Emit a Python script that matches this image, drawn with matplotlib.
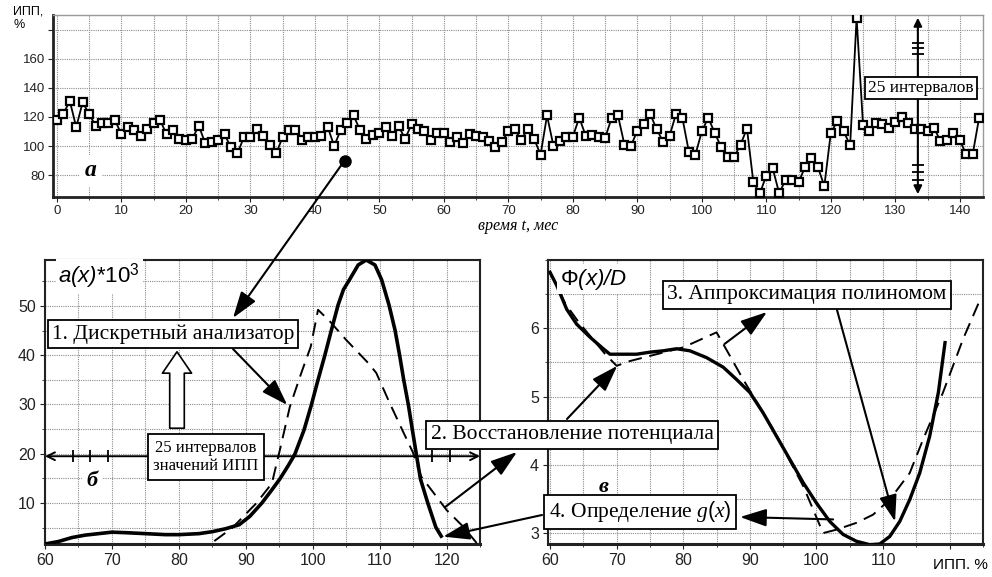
import numpy as np
import matplotlib
matplotlib.use("Agg")
import matplotlib.pyplot as plt
from matplotlib.patches import ConnectionPatch
from matplotlib.ticker import MultipleLocator

plt.rcParams['font.family'] = ['Liberation Sans', 'DejaVu Sans']
plt.rcParams['mathtext.fontset'] = 'custom'
plt.rcParams['mathtext.rm'] = 'Liberation Sans'
plt.rcParams['mathtext.sf'] = 'Liberation Sans:italic'
plt.rcParams['mathtext.it'] = 'Liberation Serif:italic'

# ---------------- data ----------------
months = list(range(144))
ipp = [118, 122, 131, 113, 130, 122, 114, 116, 116, 118,
       108, 113, 111, 107, 112, 116, 118, 108, 111, 105,
       104, 105, 114, 102, 103, 104, 108, 99, 95, 106,
       106, 112, 107, 101, 95, 106, 111, 111, 104, 106,
       106, 107, 113, 100, 111, 116, 121, 111, 105, 107.5,
       109, 113, 107, 113.5, 105, 115, 111.5, 110.5, 104, 109,
       109, 103, 106.5, 102, 108, 107, 106.5, 103.5, 99, 103,
       110, 111.5, 104, 112, 105, 94, 121, 100, 103.5, 106.5,
       106.5, 119.5, 107, 107.5, 106, 105.5, 119, 121, 101, 100,
       110.5, 115, 122, 111.5, 103, 107, 122, 119, 96, 94,
       110, 119.5, 109, 99.3, 92.4, 92.4, 101, 112, 75, 67.5,
       79.7, 84.6, 67.5, 77, 77, 75, 85.5, 91.7, 85.5, 72.5,
       109, 117, 110, 100.5, 188, 114.5, 110.3, 115.6, 115, 112.6,
       116.8, 120, 115.6, 111.7, 111.7, 110.3, 112.6, 103.4, 104, 108.7,
       104, 94.3, 94.3, 119.5]

# a(x)*10^3 : smooth density (solid) and discrete analyser (dashed)
a_x = [60, 62, 64, 66, 68, 70, 72, 75, 78, 80, 83, 85, 87, 89, 90.6, 92.4,
       93.8, 95.1, 96.3, 97.3, 98.7, 99.8, 100.8, 101.8, 102.8, 103.8, 104.6,
       105.5, 106.8, 108, 109.3, 110.3, 111.4, 112.3, 113, 113.6, 114.3, 114.9,
       115.5, 116.1, 117.2, 118.4, 119.2]
a_y = [1.7, 2.2, 3.0, 3.5, 3.8, 4.1, 4.0, 3.8, 3.6, 3.6, 3.8, 4.2, 4.8, 5.6, 7.3, 10.0,
       12.5, 14.9, 17.5, 19.8, 24.8, 29.9, 35.0, 39.9, 45.1, 50.2, 53.3,
       55.3, 58.3, 59.3, 58.3, 55.3, 50.2, 45.1, 39.9, 35.0, 29.9, 24.8,
       19.8, 14.9, 10.0, 5.1, 3.3]
ad_x = [85.3, 88.0, 91.6, 93.9, 95.1, 96.6, 98.3, 99.7, 100.8, 102.6, 105, 108.3,
        109.5, 111.5, 113.5, 115, 116.2, 118, 120, 122.5, 124.5]
ad_y = [2.3, 5.0, 10.0, 14.0, 20.8, 29.6, 36.4, 41.7, 49.2, 46.8, 43.1, 38.4,
        36.4, 30.3, 24.5, 20.2, 15.4, 12.2, 8.6, 5.2, 1.9]

# Phi(x)/D : polynomial (solid) and restored potential (dashed)
f_x = [60, 61, 62.5, 64, 66, 68, 69, 71, 73, 75, 77, 79, 81, 83.5, 86, 88, 90, 92,
       94, 96, 98, 100, 102, 104, 106, 108, 109.5, 111, 112.5, 114, 115.5, 117,
       118.3, 119.3]
f_y = [6.82, 6.63, 6.28, 6.06, 5.87, 5.70, 5.62, 5.62, 5.62, 5.65, 5.67, 5.70, 5.67,
       5.57, 5.43, 5.25, 5.06, 4.76, 4.42, 4.08, 3.74, 3.44, 3.17, 2.98, 2.88, 2.83,
       2.84, 2.95, 3.17, 3.49, 3.88, 4.42, 5.06, 5.79]
fd_x = [60, 62.3, 64.3, 68.3, 70, 72, 76, 80, 85, 86, 89, 93.5, 98, 101, 103, 106,
        108.5, 111, 114, 116, 119, 122, 124.3]
fd_y = [6.82, 6.36, 6.09, 5.62, 5.45, 5.52, 5.62, 5.72, 5.94, 5.77, 5.25, 4.52, 3.69,
        3.0, 3.05, 3.15, 3.27, 3.49, 3.88, 4.37, 5.06, 5.84, 6.36]

top_xticks = list(range(0, 150, 10))
top_yticks = [80, 100, 120, 140, 160, 180]
top_ylabels = ['80', '100', '120', '140', '160', '']
left_xticks = [60, 70, 80, 90, 100, 110, 120]
left_yticks = [10, 20, 30, 40, 50]
right_xticks = [60, 70, 80, 90, 100, 110, 120]
right_xlabels = ['60', '70', '80', '90', '100', '110', '']
right_yticks = [3, 4, 5, 6]
interval_ticks_top = [171, 167, 163.5, 87, 82, 77]
interval_ticks_left = [64.2, 66.7, 69.4, 117.8, 120.5]

# ---------------- figure ----------------
W, H = 992, 577
fig = plt.figure(figsize=(W / 100, H / 100), dpi=100)


def rect(l, t, r, b):
    return [l / W, 1 - b / H, (r - l) / W, (b - t) / H]


def P(x, y):
    return (x / W, 1 - y / H)


ax1 = fig.add_axes(rect(53, 15, 983, 197))
ax2 = fig.add_axes(rect(45, 260, 480, 544))
ax3 = fig.add_axes(rect(548, 260, 983, 544))

gridkw = dict(color='#8c8c8c', linestyle=(0, (1, 1)), linewidth=0.8)
for ax in (ax1, ax2, ax3):
    ax.grid(True, which='both', **gridkw)
    ax.set_axisbelow(True)
    for s in ax.spines.values():
        s.set_linewidth(1.5)
        s.set_color('#222222')
    ax.tick_params(which='both', direction='out', colors='#222222')
    ax.tick_params(which='minor', length=2.5)

serif = ['Liberation Serif', 'DejaVu Serif']

# ---- top panel ----
ax1.plot(months, ipp, color='black', lw=1.3, marker='s', ms=5.6, mfc='white',
         mec='black', mew=1.6, zorder=3)
ax1.set_xlim(-0.6, 143.6)
ax1.set_ylim(65, 190)
ax1.set_xticks(top_xticks)
ax1.xaxis.set_minor_locator(MultipleLocator(5))
ax1.set_yticks(top_yticks)
ax1.set_yticklabels(top_ylabels)
ax1.yaxis.set_minor_locator(MultipleLocator(20))
ax1.tick_params(labelsize=9.5, pad=2)
ax1.spines['top'].set_color('#999999')
ax1.spines['right'].set_color('#999999')
ax1.spines['top'].set_linewidth(1.0)
ax1.spines['right'].set_linewidth(1.0)
ax1.spines['bottom'].set_linewidth(2.0)
ax1.spines['left'].set_linewidth(2.0)
ax1.set_xlabel('время t, мес', family=serif, style='italic', fontsize=11.5, labelpad=1)
fig.text(13 / W, 1 - 6 / H, 'ИПП,\n%', fontsize=9, va='top', ha='left', linespacing=1.1)
ax1.text(5.2, 83, 'а', family=serif, style='italic', weight='bold', fontsize=17,
         ha='center', va='center', zorder=4,
         bbox=dict(fc='white', ec='none', pad=4))
ax1.annotate('', xy=(133.5, 190), xytext=(133.5, 65),
             arrowprops=dict(arrowstyle='<|-|>', color='black', lw=1.5,
                             mutation_scale=12), zorder=4, annotation_clip=False)
ax1.plot([133.5] * len(interval_ticks_top), interval_ticks_top, ls='none',
         marker='_', ms=8, mew=1.3, color='black', zorder=4)
ax1.plot([44.6], [90], 'o', color='black', ms=8, zorder=5)

# ---- bottom left panel ----
ax2.plot(a_x, a_y, color='black', lw=2.6, zorder=3)
ax2.plot(ad_x, ad_y, color='black', lw=1.4, dashes=(7, 4), zorder=3)
ax2.set_xlim(60, 125)
ax2.set_ylim(1.7, 59.3)
ax2.set_xticks(left_xticks)
ax2.xaxis.set_minor_locator(MultipleLocator(5))
ax2.set_yticks(left_yticks)
ax2.yaxis.set_minor_locator(MultipleLocator(5))
ax2.tick_params(labelsize=11.5, pad=3)
ax2.spines['bottom'].set_linewidth(2.2)
ax2.annotate('', xy=(125, 19.5), xytext=(60, 19.5),
             arrowprops=dict(arrowstyle='<->', color='black', lw=1.4,
                             mutation_scale=14, shrinkA=0, shrinkB=0), zorder=4)
ax2.plot(interval_ticks_left, [19.5] * len(interval_ticks_left), ls='none',
         marker='|', ms=8, mew=1.3, color='black', zorder=4)
ax2.text(62, 56, r'$\mathsf{a(x)}$*10$^3$', fontsize=16, ha='left', va='center',
         zorder=4, bbox=dict(fc='white', ec='none', pad=2))
ax2.text(67, 14.5, 'б', family=serif, style='italic', weight='bold', fontsize=16,
         ha='center', va='center', zorder=4, bbox=dict(fc='white', ec='none', pad=3))

# ---- bottom right panel ----
ax3.plot(f_x, f_y, color='black', lw=2.4, zorder=3)
ax3.plot(fd_x, fd_y, color='black', lw=1.4, dashes=(7, 4), zorder=3)
ax3.set_xlim(59.7, 125)
ax3.set_ylim(2.84, 7.0)
ax3.set_xticks(right_xticks)
ax3.set_xticklabels(right_xlabels)
ax3.xaxis.set_minor_locator(MultipleLocator(5))
ax3.set_yticks(right_yticks)
ax3.yaxis.set_minor_locator(MultipleLocator(0.5))
ax3.tick_params(labelsize=11.5, pad=3)
ax3.spines['bottom'].set_linewidth(2.2)
fig.text(960 / W, 1 - 565 / H, 'ИПП. %', fontsize=11, ha='center', va='center')
ax3.text(61.5, 6.72, r'Φ$\mathsf{(x)/D}$', fontsize=16, ha='left', va='center',
         zorder=4, bbox=dict(fc='white', ec='none', pad=2))
ax3.text(68, 3.68, 'в', family=serif, style='italic', weight='bold', fontsize=16,
         ha='center', va='center', zorder=4, bbox=dict(fc='white', ec='none', pad=3))

# ---------------- annotations ----------------
boxkw = dict(boxstyle='square,pad=0.2', fc='white', ec='black', lw=1.3)
fig.text(*P(921, 88), '25 интервалов', family=serif, fontsize=12.5,
         ha='center', va='center', bbox=boxkw, zorder=6)
fig.text(*P(173, 334), '1. Дискретный анализатор', family=serif, fontsize=15.5,
         ha='center', va='center', bbox=boxkw, zorder=6)
fig.text(*P(206, 457), '25 интервалов\nзначений ИПП', family=serif, fontsize=12,
         ha='center', va='center', bbox=dict(boxstyle='square,pad=0.35', fc='white',
                                             ec='black', lw=1.3),
         linespacing=1.25, zorder=6)
fig.text(*P(572, 435), '2. Восстановление потенциала', family=serif, fontsize=15.5,
         ha='center', va='center', bbox=boxkw, zorder=6)
fig.text(*P(807, 295), '3. Аппроксимация полиномом', family=serif, fontsize=15.5,
         ha='center', va='center', bbox=boxkw, zorder=6)
fig.text(*P(640, 512), '4. Определение $\\mathit{g(x)}$', family=serif, fontsize=15.5,
         ha='center', va='center', bbox=boxkw, zorder=6)

arrow = dict(arrowstyle='-|>,head_length=0.9,head_width=0.3', mutation_scale=18,
             lw=1.5, color='black', shrinkA=0, shrinkB=0, zorder=5)


def link(xyA, cA, xyB, cB, axA=None, axB=None):
    cp = ConnectionPatch(xyA=xyA, coordsA=cA, xyB=xyB, coordsB=cB,
                         axesA=axA, axesB=axB, **arrow)
    fig.add_artist(cp)


ff = 'figure fraction'
link((44.6, 90), ax1.transData, P(233, 318), ff)
link(P(233, 349), ff, (96.2, 29.9), ax2.transData)
link((119.8, 9.2), ax2.transData, P(517, 452), ff)
link(P(567, 419), ff, (70.1, 5.45), ax3.transData)
link((86.2, 5.77), ax3.transData, P(767, 312), ff)
link(P(837, 310), ff, (111.8, 3.17), ax3.transData)
link((102.5, 3.2), ax3.transData, P(740, 517), ff)
link(P(542, 515), ff, (119.5, 3.2), ax2.transData)

# hollow arrow
fig.add_artist(matplotlib.patches.FancyArrowPatch(
    P(177, 431), P(177, 349), transform=fig.transFigure,
    arrowstyle='simple,head_width=1.5,head_length=1.1,tail_width=0.75',
    mutation_scale=14, fc='white', ec='black', lw=1.2, zorder=5))

fig.savefig('out.png', dpi=100)
